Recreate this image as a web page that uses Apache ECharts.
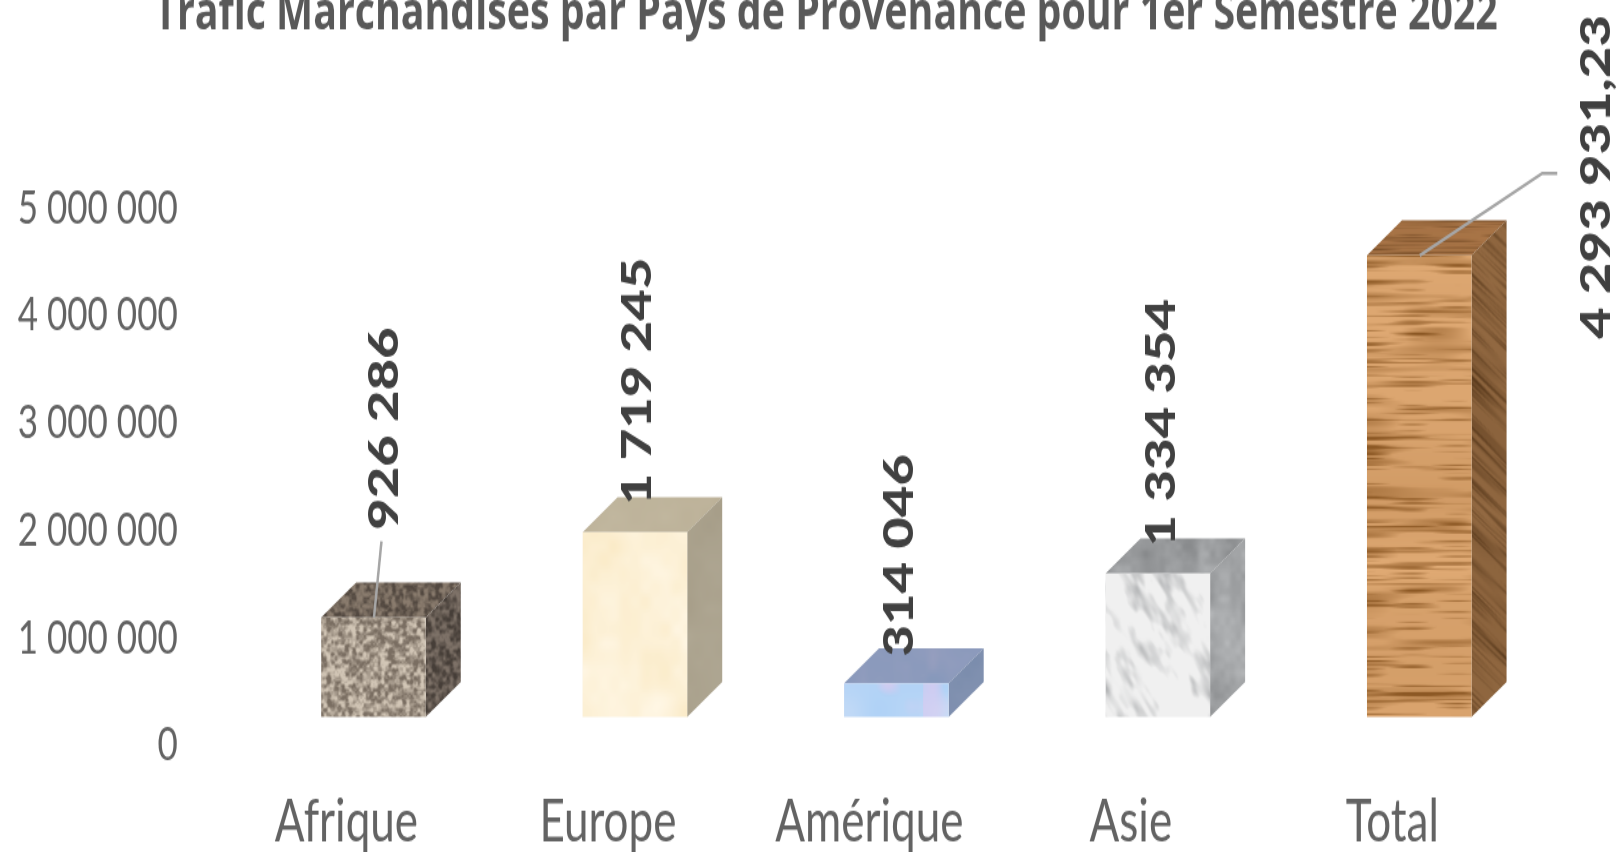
<!DOCTYPE html>
<html>
<head>
<meta charset="utf-8">
<style>
html,body{margin:0;padding:0;background:#fff;overflow:hidden;width:1621px;height:852px}
#c{width:1621px;height:640px;transform-origin:0 0;transform:scaleY(1.33125);filter:blur(0.5px)}
</style>
<script src="https://cdn.jsdelivr.net/npm/echarts@6/dist/echarts.min.js"></script>
</head>
<body>
<div id="c"></div>
<script>
const titleText = 'Trafic Marchandises par Pays de Provenance pour 1er Semestre 2022';
const categories = ['Afrique', 'Europe', 'Amérique', 'Asie', 'Total'];
const values = [926286, 1719245, 314046, 1334354, 4293931.23];
const yTicks = [0, 1000000, 2000000, 3000000, 4000000, 5000000];

/* layout (page px from the top of each bar) */
const S = 1.33125;
const labelOffsets = [[11, -189], [3, -151], [3, -128], [4, -151], [178, -78.5]];
const leaders = [[[0.5, 0], [8, -76]], null, null, null, [[0.5, 0], [123, -82], [138, -82]]];

/* --- surface textures (style only) --- */
function h(x, y, s) { const v = Math.sin(x * 127.1 + y * 311.7 + s * 74.7) * 43758.5453; return v - Math.floor(v); }
function sm(t) { return t * t * (3 - 2 * t); }
function vn(x, y, s) {
  const xi = Math.floor(x), yi = Math.floor(y), fx = sm(x - xi), fy = sm(y - yi);
  const a = h(xi, yi, s), b = h(xi + 1, yi, s), c = h(xi, yi + 1, s), d = h(xi + 1, yi + 1, s);
  return a + (b - a) * fx + (c - a) * fy + (a - b - c + d) * fx * fy;
}
function mix(a, b, t) { t = Math.max(0, Math.min(1, t)); return [a[0] + (b[0] - a[0]) * t, a[1] + (b[1] - a[1]) * t, a[2] + (b[2] - a[2]) * t]; }
function tex(w, ht, fn) {
  const c = document.createElement('canvas'); c.width = w; c.height = ht;
  const g = c.getContext('2d'), d = g.createImageData(w, ht);
  for (let y = 0; y < ht; y++) for (let x = 0; x < w; x++) {
    const p = fn(x, y), i = (y * w + x) * 4;
    d.data[i] = p[0]; d.data[i + 1] = p[1]; d.data[i + 2] = p[2]; d.data[i + 3] = 255;
  }
  g.putImageData(d, 0, 0);
  return { image: c, repeat: 'repeat' };
}
const granite = (lo, hi) => (x, y) => {
  const n = 0.7 * vn(x / 3.6, y / 3.0, 1) + 0.3 * vn(x / 1.8, y / 1.5, 2);
  return mix(lo, hi, (n - 0.25) * 2.0);
};
const soft = (lo, hi, sc) => (x, y) => mix(lo, hi, 0.65 * vn(x / sc, y / sc, 3) + 0.35 * vn(x / (sc / 2.5), y / (sc / 2.5), 4));
const opal = (x, y) => {
  const a = vn(x / 34, y / 20, 5), b = vn(x / 22, y / 16, 6);
  return mix(mix([176, 210, 246], [205, 222, 246], a), [226, 200, 238], (b - 0.6) * 2 + (x > 78 ? 0.5 : 0));
};
const marble = (x, y) => {
  const u = (x - y * 0.8) / 10, v = (x + y * 0.8) / 22;
  const n = vn(u, v, 12) * 0.5 + vn(u * 2.2, v * 2.2, 13) * 0.25 + vn(x / 36, y / 26, 14) * 0.25;
  return mix([240, 240, 240], [160, 162, 164], (n - 0.45) * 1.9);
};
const grain = (yy, x) => {
  const f = vn(yy / 1.6, x / 45, 9), g = vn(yy / 5, x / 70, 10), w = vn(yy / 26, 0.5, 11);
  return Math.max(0, (f - 0.58) * 1.9) + Math.max(0, (g - 0.58) * 1.2) + (w - 0.5) * 0.35;
};
const woodFront = (x, y) => mix([226, 172, 118], [140, 88, 36], grain(y, x) + 0.08);
const woodSide = (x, y) => mix([150, 108, 68], [92, 60, 30], grain(y + 26 - x * 0.75, x) * 0.9 + 0.1);
const woodTop = (x, y) => mix([170, 118, 72], [120, 78, 40], grain(y * 1.6, x) + 0.15);
const W = 140, Ht = 480;
const faces = [
  { f: tex(W, Ht, granite([122, 110, 98], [210, 198, 182])), t: tex(W, Ht, granite([82, 72, 64], [138, 124, 110])), s: tex(W, Ht, granite([70, 62, 56], [126, 114, 104])) },
  { f: tex(W, Ht, soft([250, 234, 198], [255, 247, 230], 26)), t: tex(W, Ht, soft([186, 175, 150], [194, 184, 160], 26)), s: tex(W, Ht, soft([166, 157, 136], [176, 168, 148], 26)) },
  { f: tex(W, Ht, opal), t: tex(W, Ht, soft([128, 150, 186], [150, 158, 190], 22)), s: tex(W, Ht, soft([122, 140, 172], [136, 150, 180], 22)) },
  { f: tex(W, Ht, marble), t: tex(W, Ht, soft([130, 132, 134], [176, 178, 180], 14)), s: tex(W, Ht, soft([140, 142, 144], [186, 188, 190], 14)) },
  { f: tex(W, Ht, woodFront), t: tex(W, Ht, woodTop), s: tex(W, Ht, woodSide) }
];

function fmt(v) {
  const [i, d] = String(v).split('.');
  return i.replace(/\B(?=(\d{3})+$)/g, ' ') + (d ? ',' + d : '');
}

const DX = 35, DY = 35 / S;

function renderBar(params, api) {
  const i = api.value(0), v = api.value(1);
  const top = api.coord([i, v]), base = api.coord([i, 0]);
  const bw = api.size([1, 0])[0] * 0.4;
  const x0 = top[0] - bw / 2, y0 = top[1], hh = base[1] - top[1];
  const face = faces[i];
  const kids = [
    { type: 'polygon', x: x0, y: y0, shape: { points: [[0, 0], [bw, 0], [bw + DX, -DY], [DX, -DY]] }, style: { fill: face.t } },
    { type: 'polygon', x: x0 + bw, y: y0 - DY, shape: { points: [[0, DY], [DX, 0], [DX, hh], [0, hh + DY]] }, style: { fill: face.s } },
    { type: 'polygon', x: x0, y: y0, shape: { points: [[0, 0], [bw, 0], [bw, hh], [0, hh]] }, style: { fill: face.f } }
  ];
  const cx = top[0];
  if (leaders[i]) {
    kids.push({ type: 'polyline', shape: { points: leaders[i].map(p => [cx + p[0], y0 + p[1] / S]) }, style: { stroke: '#a6a6a6', lineWidth: 2.5, fill: null } });
  }
  kids.push({
    type: 'text', x: cx + labelOffsets[i][0], y: y0 + labelOffsets[i][1] / S, rotation: Math.PI / 2,
    style: { text: fmt(v), align: 'center', verticalAlign: 'middle', fill: '#404040', font: '900 41px Lato' }
  });
  return { type: 'group', children: kids };
}

const chart = echarts.init(document.getElementById('c'), null, { renderer: 'canvas' });
chart.setOption({
  animation: false,
  backgroundColor: '#fff',
  title: {
    text: titleText, left: 821, top: -14, textAlign: 'center',
    textStyle: { fontFamily: 'Open Sans', fontWeight: 'bold', fontSize: 39.3, color: '#595959' }
  },
  grid: { left: 242.75, right: 71, top: 134.8, bottom: 101.4 },
  xAxis: {
    type: 'category', data: categories,
    axisLine: { show: false }, axisTick: { show: false },
    axisLabel: { color: '#636363', fontFamily: 'Lato', fontWeight: 400, fontSize: 44, margin: 57, padding: [0, 54, 0, 0], interval: 0 }
  },
  yAxis: {
    type: 'value', min: 0, max: 5000000, interval: 1000000,
    axisLine: { show: false }, axisTick: { show: false }, splitLine: { show: false },
    axisLabel: {
      color: '#636363', fontFamily: 'Lato', fontWeight: 400, fontSize: 35, margin: 65, verticalAlign: 'top', padding: [4, 0, 0, 0],
      formatter: v => fmt(yTicks[yTicks.indexOf(v)])
    }
  },
  series: [{
    type: 'custom', coordinateSystem: 'cartesian2d', renderItem: renderBar,
    encode: { x: 0, y: 1 },
    data: values.map((v, i) => [i, v])
  }]
});
</script>
</body>
</html>
